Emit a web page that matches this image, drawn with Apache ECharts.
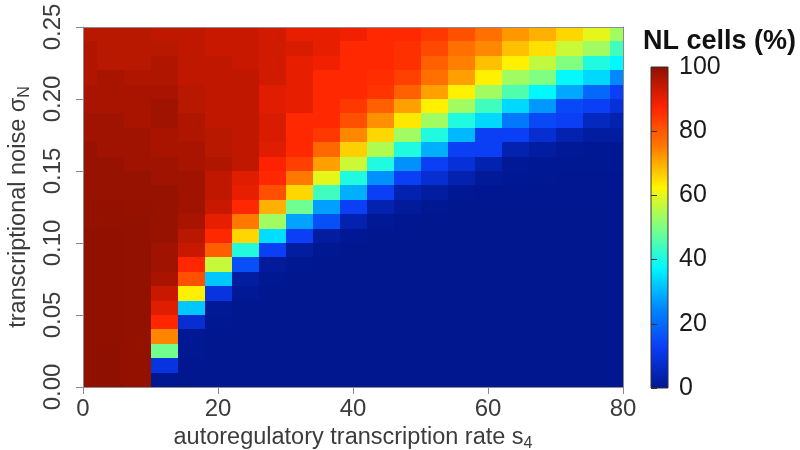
<!DOCTYPE html>
<html>
<head>
<meta charset="utf-8">
<script src="https://cdn.jsdelivr.net/npm/echarts@6/dist/echarts.min.js"></script>
<style>
  html, body { margin: 0; padding: 0; background: #ffffff; }
  #chart { width: 800px; height: 450px; }
</style>
</head>
<body>
<div id="chart"></div>
<script>
// Autoregulatory transcription rate s4 (column centres)
const sRates = [0, 4, 8, 12, 16, 20, 24, 28, 32, 36, 40, 44, 48, 52, 56, 60, 64, 68, 72, 76, 80];
// Transcriptional noise sigma_N (row centres)
const sigmaN = [0.005, 0.015, 0.025, 0.035, 0.045, 0.055, 0.065, 0.075, 0.085, 0.095,
                0.105, 0.115, 0.125, 0.135, 0.145, 0.155, 0.165, 0.175, 0.185, 0.195,
                0.205, 0.215, 0.225, 0.235, 0.245];
// Percentage of NL cells, one row per sigma_N value, one entry per s4 value
const nlCells = [
  [99.8, 99.8, 99.3, 0.4, 0.3, 0.3, 0.3, 0.3, 0.3, 0.3, 0.3, 0.3, 0.3, 0.3, 0.3, 0.3, 0.3, 0.3, 0.3, 0.3, 0.3],
  [99.8, 99.8, 99.3, 10, 0.4, 0.3, 0.3, 0.3, 0.3, 0.3, 0.3, 0.3, 0.3, 0.3, 0.3, 0.3, 0.3, 0.3, 0.3, 0.3, 0.3],
  [99.8, 99.8, 99.3, 49, 0.5, 0.3, 0.3, 0.3, 0.3, 0.3, 0.3, 0.3, 0.3, 0.3, 0.3, 0.3, 0.3, 0.3, 0.3, 0.3, 0.3],
  [99.8, 99.7, 99.5, 74, 0.8, 0.3, 0.3, 0.3, 0.3, 0.3, 0.3, 0.3, 0.3, 0.3, 0.3, 0.3, 0.3, 0.3, 0.3, 0.3, 0.3],
  [99.8, 99.7, 99.6, 87, 8, 0.5, 0.3, 0.3, 0.3, 0.3, 0.3, 0.3, 0.3, 0.3, 0.3, 0.3, 0.3, 0.3, 0.3, 0.3, 0.3],
  [99.8, 99.7, 99.6, 91, 32, 1, 0.3, 0.3, 0.3, 0.3, 0.3, 0.3, 0.3, 0.3, 0.3, 0.3, 0.3, 0.3, 0.3, 0.3, 0.3],
  [99.8, 99.7, 99.6, 93.6, 63, 10, 1, 0.3, 0.3, 0.3, 0.3, 0.3, 0.3, 0.3, 0.3, 0.3, 0.3, 0.3, 0.3, 0.3, 0.3],
  [99.8, 99.7, 99.6, 97, 81, 32, 2.2, 0.5, 0.3, 0.3, 0.3, 0.3, 0.3, 0.3, 0.3, 0.3, 0.3, 0.3, 0.3, 0.3, 0.3],
  [99.8, 99.7, 99.6, 98, 87, 57, 15.8, 1.5, 0.5, 0.3, 0.3, 0.3, 0.3, 0.3, 0.3, 0.3, 0.3, 0.3, 0.3, 0.3, 0.3],
  [99.8, 99.7, 99.6, 98, 93.6, 79, 41, 13, 2.2, 0.5, 0.3, 0.3, 0.3, 0.3, 0.3, 0.3, 0.3, 0.3, 0.3, 0.3, 0.3],
  [99.8, 99.7, 99.6, 98.9, 95.4, 86.7, 65.5, 34.6, 13, 2.2, 0.8, 0.3, 0.3, 0.3, 0.3, 0.3, 0.3, 0.3, 0.3, 0.3, 0.3],
  [99.6, 99.6, 99.4, 98.9, 97.1, 90, 75.3, 53.4, 28, 15.8, 4, 1, 0.4, 0.3, 0.3, 0.3, 0.3, 0.3, 0.3, 0.3, 0.3],
  [99.4, 99.3, 99, 98.9, 98, 93.6, 86.7, 69.5, 48.8, 27.7, 13, 4.1, 1.5, 0.5, 0.3, 0.3, 0.3, 0.3, 0.3, 0.3, 0.3],
  [98.9, 98.9, 98.9, 98.9, 98, 94.5, 90, 81, 65.5, 44, 29.5, 13, 4.1, 2.2, 0.8, 0.4, 0.4, 0.4, 0.4, 0.4, 0.4],
  [98.9, 98.9, 98.9, 98, 98, 94.5, 90.9, 86.7, 75.3, 60, 40.7, 26, 13, 8, 4.1, 1.2, 0.8, 0.5, 0.4, 0.4, 0.4],
  [98.9, 98.9, 98, 98, 97.1, 96.2, 94.5, 87.5, 83.2, 71.1, 57.3, 40.7, 26, 13, 9, 4.1, 1, 0.8, 0.5, 0.5, 0.5],
  [98.9, 98, 98, 97.1, 97.1, 95.4, 94.5, 90.9, 86.7, 77.5, 66.3, 55, 40.7, 29.5, 13, 13, 4.1, 2.2, 1, 0.8, 0.8],
  [98, 98, 98, 97.1, 96.2, 95.4, 94.5, 91.8, 86.7, 84.4, 73.6, 65.5, 53.4, 40.7, 30.4, 13, 13, 8, 4.1, 2.2, 2.2],
  [98, 98, 97.1, 98, 96.2, 94.5, 94.5, 91.8, 86.7, 86.7, 81, 72.8, 63.8, 53.4, 40.7, 34, 22.4, 14.5, 13, 6, 4.1],
  [97.1, 97.1, 97.1, 98, 95.4, 94.5, 94.5, 90.9, 90, 86.7, 84.4, 78.7, 71.1, 62.9, 53.4, 44, 34, 26.8, 14.5, 13, 9],
  [97.1, 97.1, 97.1, 97.1, 95.4, 94.5, 94.5, 90.9, 90, 86.7, 86.7, 85, 78.7, 71.1, 62.9, 53.4, 45.6, 37.5, 28.6, 19.7, 13],
  [96.2, 97.1, 96.2, 96.2, 94.5, 94.5, 94.5, 92.7, 90, 86.7, 86.7, 86, 83.2, 76.4, 71.1, 62.9, 53.4, 50.4, 38, 34, 25],
  [96.2, 95.4, 95.4, 96.2, 94.5, 94.5, 93.6, 92.7, 90, 89.1, 86.7, 86.7, 85.5, 78.7, 74.4, 67.9, 62.9, 56.5, 50.4, 40.7, 37.5],
  [96.2, 95.4, 95.4, 95.4, 94.5, 93.6, 93.6, 92.7, 91.8, 90, 86.7, 86.7, 85.5, 82, 76.4, 73.6, 67.9, 64.6, 57.3, 53.4, 44],
  [95.4, 95.4, 95.4, 94.5, 94.5, 93.6, 93.6, 92.7, 90, 90, 89.1, 86.7, 86.7, 84.4, 81, 76.4, 72, 69.5, 65.5, 60, 53.4]
];
// Colour-bar scale
const scaleTicks = [0, 20, 40, 60, 80, 100];
const jetColors = ['#00168E', '#0A3CF5', '#0088FF', '#00F8FF', '#7CFF84', '#FFF500', '#FF7A00', '#FF2200', '#8E1000'];

const FONT = "'Liberation Sans', Arial, Helvetica, sans-serif";
const AXIS_GREY = '#8c8c8c';
const LABEL_GREY = '#3c3c3c';
const X_STEP = sRates[1] - sRates[0];
const Y_STEP = sigmaN[1] - sigmaN[0];

const cells = [];
nlCells.forEach((row, r) => {
  row.forEach((v, c) => cells.push([sRates[c], sigmaN[r], v]));
});

const chart = echarts.init(document.getElementById('chart'), null, { renderer: 'canvas' });

// One heat-map cell, snapped to whole pixels so neighbours meet without seams
function renderCell(params, api) {
  const xc = api.value(0), yc = api.value(1);
  const a = api.coord([xc - X_STEP / 2, yc + Y_STEP / 2]);
  const b = api.coord([xc + X_STEP / 2, yc - Y_STEP / 2]);
  const x1 = Math.round(a[0]), x2 = Math.round(b[0]);
  const y1 = Math.round(a[1]), y2 = Math.round(b[1]);
  const cs = params.coordSys;
  const rect = echarts.graphic.clipRectByRect(
    { x: x1, y: y1, width: x2 - x1, height: y2 - y1 },
    { x: Math.round(cs.x), y: Math.round(cs.y), width: Math.round(cs.width), height: Math.round(cs.height) }
  );
  if (!rect) return;
  return { type: 'rect', shape: rect, style: { fill: api.visual('color') } };
}

// Colour bar drawn on its own 0–100 axis
function renderBar(params, api) {
  const a = api.coord([0, api.value(1)]);
  const b = api.coord([1, api.value(0)]);
  const stops = jetColors.map((c, i) => ({ offset: i / (jetColors.length - 1), color: c }));
  return {
    type: 'rect',
    shape: { x: a[0], y: a[1], width: b[0] - a[0], height: b[1] - a[1] },
    style: {
      fill: new echarts.graphic.LinearGradient(0, 1, 0, 0, stops),
      stroke: '#333333',
      lineWidth: 1
    }
  };
}

const edgeAxis = (pos, grid) => ({
  gridIndex: grid, position: pos, z: 10,
  axisLine: { show: true, onZero: false, lineStyle: { color: AXIS_GREY, width: 1 } },
  axisTick: { show: false }, axisLabel: { show: false }, splitLine: { show: false }
});

const subStyle = { fontSize: 16, color: LABEL_GREY, fontFamily: FONT, padding: [12, 0, 0, 0] };

const option = {
  backgroundColor: '#ffffff',
  animation: false,
  textStyle: { fontFamily: FONT },
  title: {
    text: 'NL cells (%)',
    left: 638, top: 23,
    textStyle: { fontFamily: FONT, fontSize: 27, fontWeight: 'bold', color: '#111111' }
  },
  grid: [
    { left: 83, right: 177, top: 27, bottom: 63, outerBoundsMode: 'none' },
    { left: 651, width: 17, top: 67, bottom: 62, outerBoundsMode: 'none' }
  ],
  visualMap: {
    type: 'continuous', show: false, min: 0, max: 100,
    dimension: 2, seriesIndex: 0,
    inRange: { color: jetColors }
  },
  xAxis: [
    {
      type: 'value', gridIndex: 0, min: 0, max: 80, interval: 20, position: 'bottom', z: 10,
      axisLine: { show: true, onZero: false, lineStyle: { color: AXIS_GREY, width: 1 } },
      axisTick: { show: true, length: 7, lineStyle: { color: AXIS_GREY } },
      splitLine: { show: false },
      axisLabel: { fontSize: 24, color: LABEL_GREY, margin: 10, fontFamily: FONT },
      name: 'autoregulatory transcription rate s{sub|4}',
      nameLocation: 'middle', nameGap: 37,
      nameTextStyle: { fontSize: 23.5, color: LABEL_GREY, fontFamily: FONT, rich: { sub: subStyle } }
    },
    Object.assign({ type: 'value', min: 0, max: 80 }, edgeAxis('top', 0)),
    { type: 'value', gridIndex: 1, min: 0, max: 1, show: false }
  ],
  yAxis: [
    {
      type: 'value', gridIndex: 0, min: 0, max: 0.25, interval: 0.05, position: 'left', z: 10,
      axisLine: { show: true, onZero: false, lineStyle: { color: AXIS_GREY, width: 1 } },
      axisTick: { show: true, length: 7, lineStyle: { color: AXIS_GREY } },
      splitLine: { show: false },
      axisLabel: {
        fontSize: 24, color: LABEL_GREY, margin: 18, rotate: 90, fontFamily: FONT,
        formatter: v => v.toFixed(2)
      },
      name: 'transcriptional noise σ{sub|N}',
      nameLocation: 'middle', nameRotate: 90, nameGap: 50,
      nameTextStyle: { fontSize: 23.5, color: LABEL_GREY, fontFamily: FONT, rich: { sub: subStyle } }
    },
    Object.assign({ type: 'value', min: 0, max: 0.25 }, edgeAxis('right', 0)),
    {
      type: 'value', gridIndex: 1, min: 0, max: 100, interval: 20, position: 'right', z: 10,
      axisLine: { show: false },
      axisTick: { show: true, length: 6, lineStyle: { color: '#333333' } },
      splitLine: { show: false },
      axisLabel: { fontSize: 25, color: '#1a1a1a', margin: 11, fontFamily: FONT }
    }
  ],
  series: [
    {
      type: 'custom', name: 'NL cells', coordinateSystem: 'cartesian2d',
      xAxisIndex: 0, yAxisIndex: 0,
      renderItem: renderCell,
      encode: { x: 0, y: 1 },
      data: cells, z: 2
    },
    {
      type: 'custom', name: 'scale', coordinateSystem: 'cartesian2d',
      xAxisIndex: 2, yAxisIndex: 2,
      renderItem: renderBar,
      data: [[scaleTicks[0], scaleTicks[scaleTicks.length - 1]]], z: 2
    }
  ]
};

chart.setOption(option);
</script>
</body>
</html>
